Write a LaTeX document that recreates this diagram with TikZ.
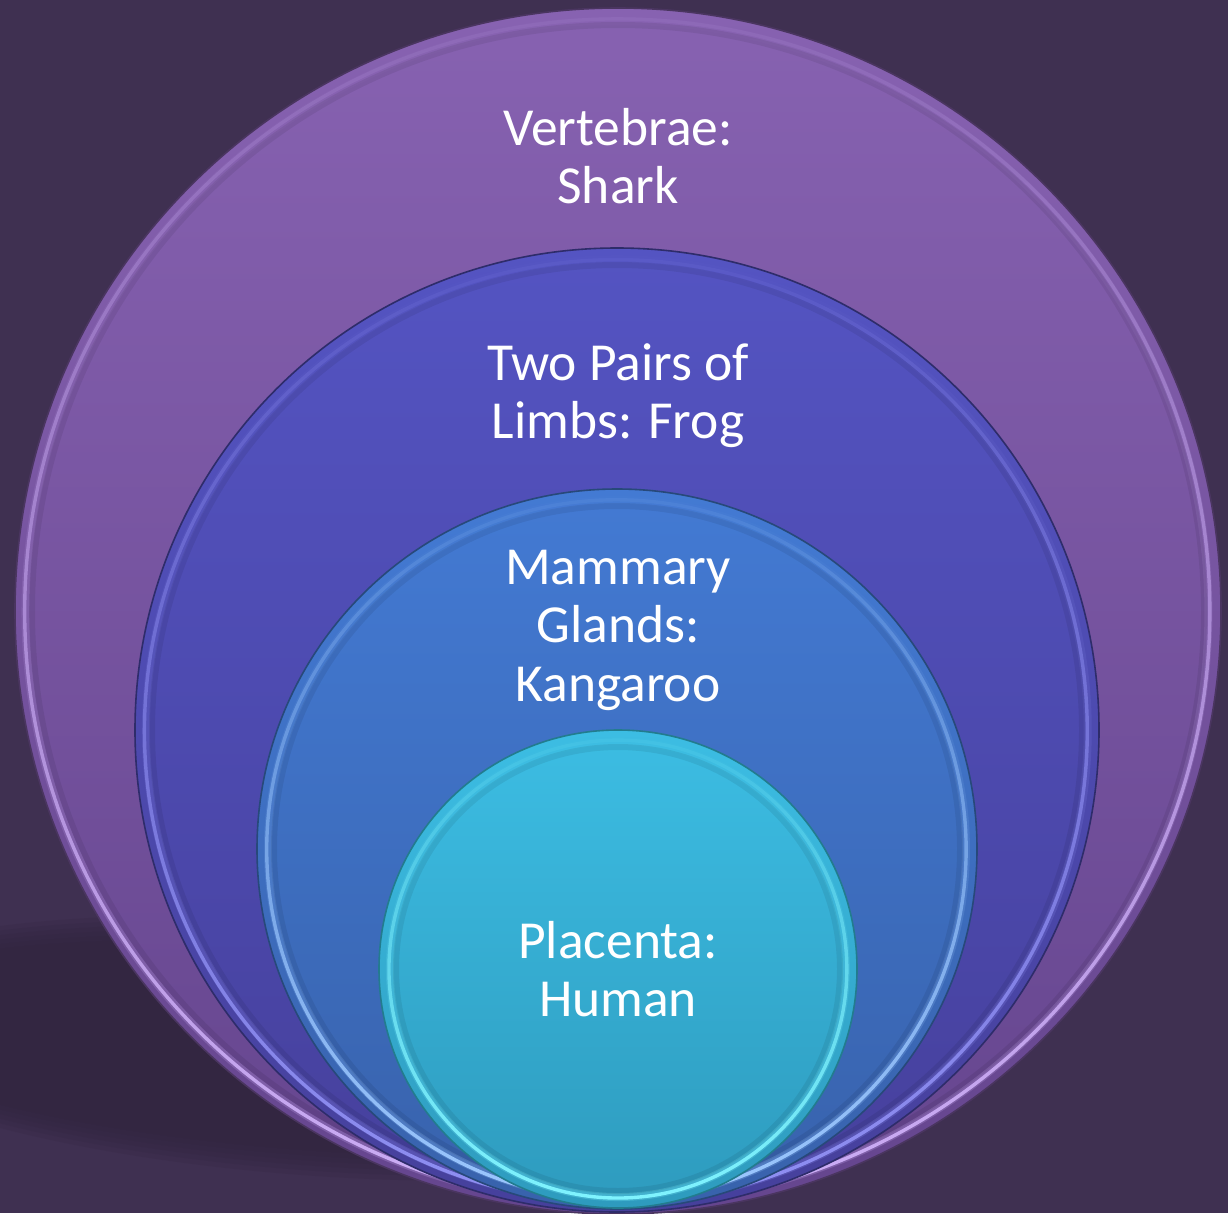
\documentclass[tikz,border=0pt]{standalone}
\usepackage{fontspec}
\setmainfont{Carlito}
\usetikzlibrary{fadings}
\definecolor{bg}{HTML}{3F3051}
\definecolor{shadowc}{HTML}{2F233B}
% ring fills (top / bottom), rim highlight and edge
\definecolor{aTop}{HTML}{8762B1}
\definecolor{aBot}{HTML}{65458E}
\definecolor{aRim}{HTML}{CDAEF7}
\definecolor{aEdge}{HTML}{4A3560}
\definecolor{bTop}{HTML}{5454C2}
\definecolor{bBot}{HTML}{46409C}
\definecolor{bRim}{HTML}{9090F4}
\definecolor{bEdge}{HTML}{2E2C6A}
\definecolor{cTop}{HTML}{437AD3}
\definecolor{cBot}{HTML}{3862AC}
\definecolor{cRim}{HTML}{9CC8FF}
\definecolor{cEdge}{HTML}{27497A}
\definecolor{dTop}{HTML}{3CBDE3}
\definecolor{dBot}{HTML}{2E9BBE}
\definecolor{dRim}{HTML}{80F4FF}
\definecolor{dEdge}{HTML}{227C8E}
% the bevel highlight is strong on the sides and bottom, gone at the top
\tikzfading[name=rimfade, top color=transparent!92, middle color=transparent!10, bottom color=transparent!0]
\tikzset{
  lbl/.style={text=white, align=center, font=\fontsize{53.5}{58.5}\selectfont, inner sep=0pt},
}
% \layer{cx}{cy}{r}{prefix}
\newcommand\layer[4]{%
  \shade[top color=#4Top, bottom color=#4Bot] (#1,#2) circle [radius=#3];
  \draw[#4Rim, line width=8, opacity=0.25, path fading=rimfade] (#1,#2) circle [radius=#3-11];
  \draw[#4Rim, line width=3.4, path fading=rimfade] (#1,#2) circle [radius=#3-10];
  \draw[black, line width=6, opacity=0.07] (#1,#2) circle [radius=#3-17];
  \draw[#4Edge, line width=1.6] (#1,#2) circle [radius=#3];
}
\begin{document}
\begin{tikzpicture}[x=1pt,y=-1pt]
\useasboundingbox (0,0) rectangle (1228,1213);
\fill[bg] (0,0) rectangle (1228,1213);
% soft cast shadow on the floor, to the left
\begin{scope}
  \clip (0,0) rectangle (1228,1213);
  \foreach \k in {0,...,5}{
    \fill[shadowc, opacity=0.16] (320,1048) ellipse [x radius=520-\k*6, y radius=128-\k*5, rotate=-4];
  }
\end{scope}
% nested circles, outermost first
\layer{618}{611}{603}{a}
\layer{617}{730}{482}{b}
\layer{617}{849}{360}{c}
\layer{618}{969}{239}{d}
% labels (anchored at the baseline of their last line)
\node[lbl, anchor=base] (t1) at (618,203.5) {Vertebrae:\\Shark};
\node[lbl, anchor=base] (t2) at (618,438.5) {Two Pairs of\\Limbs: Frog};
\node[lbl, anchor=base] (t3) at (618,701) {Mammary\\Glands:\\Kangaroo};
\node[lbl, anchor=base] (t4) at (618,1016.5) {Placenta:\\Human};
\end{tikzpicture}
\end{document}
